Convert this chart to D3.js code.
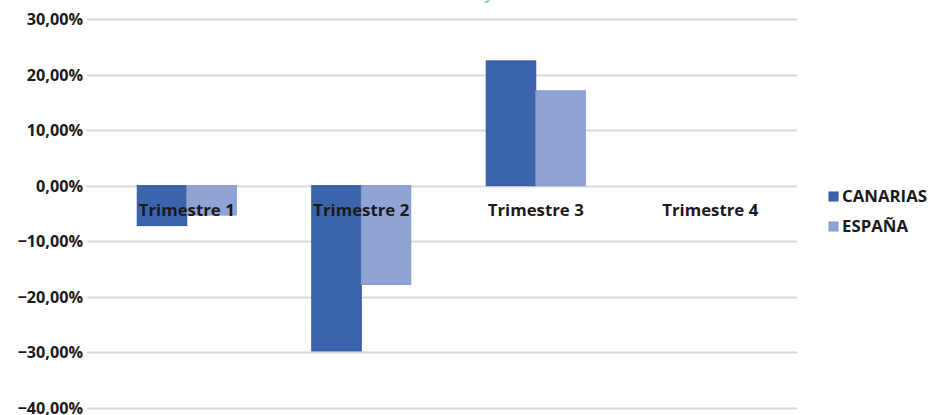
<!DOCTYPE html>
<html><head><meta charset="utf-8">
<script src="https://cdn.jsdelivr.net/npm/d3@7"></script>
<style>
html,body{margin:0;padding:0;background:#fff;}
svg{display:block;font-family:"Open Sans",sans-serif;}
</style></head>
<body>
<svg id="chart" width="931" height="415"></svg>
<script>
const categories = ["Trimestre 1","Trimestre 2","Trimestre 3","Trimestre 4"];
const seriesNames = ["CANARIAS","ESPAÑA"];
const canarias = [-7.2, -29.8, 22.5, null];
const espana = [-5.3, -17.8, 17.1, null];
const yTicks = [30,20,10,0,-10,-20,-30,-40];
const colors = ["#3B64AD","#8FA4D4"];
const strokes = ["#2F5597","#8297CB"];

const svg = d3.select("#chart");
const y = d3.scaleLinear().domain([-40,30]).range([407.5,19.3]);
const x = d3.scaleBand().domain(categories).range([99.5,797.5]).paddingInner(0).paddingOuter(0);
const xs = d3.scaleBand().domain(seriesNames).range([0,x.bandwidth()]).paddingInner(0).paddingOuter(0.763);

const gridLeft = 87, gridRight = 797;
const FS = 16.2, FS2 = 16.8, FW = 700, TXT = "#1a1a1a";

// partially visible title (cut off at top)
svg.append("text").attr("x",484).attr("y",-1.5).attr("fill","#9DC3E6")
  .attr("font-size",18).attr("font-weight",600).text("y");

// gridlines
svg.append("g").selectAll("line").data(yTicks).join("line")
  .attr("x1",gridLeft).attr("x2",gridRight)
  .attr("y1",d=>Math.round(y(d))+0.5).attr("y2",d=>Math.round(y(d))+0.5)
  .attr("stroke","#D9D9D9").attr("stroke-width",2);

// y axis labels
const yAxis = d3.axisLeft(y).tickValues(yTicks).tickSize(0).tickPadding(0)
  .tickFormat(d=>d3.format(".2f")(d).replace(".",",")+"%");
const ya = svg.append("g").attr("transform","translate(83,0)").call(yAxis);
ya.select(".domain").remove();
ya.selectAll("text").attr("font-family","Open Sans, sans-serif").attr("font-size",FS)
  .attr("font-weight",FW).attr("fill",TXT).attr("dy","0.35em");

// bars
const series = [canarias, espana];
series.forEach((vals,si)=>{
  svg.append("g").selectAll("rect").data(categories.map((c,i)=>({c,v:vals[i]})).filter(d=>d.v!=null))
    .join("rect")
    .attr("x",d=>x(d.c)+xs(seriesNames[si]))
    .attr("width",xs.bandwidth())
    .attr("y",d=>Math.min(y(d.v),y(0)))
    .attr("height",d=>Math.abs(y(d.v)-y(0)))
    .attr("fill",colors[si]).attr("stroke",strokes[si]).attr("stroke-width",1);
});

// category labels near zero line
svg.append("g").selectAll("text").data(categories).join("text")
  .attr("x",d=>x(d)+x.bandwidth()/2).attr("y",216)
  .attr("text-anchor","middle").attr("font-size",FS2).attr("font-weight",FW)
  .attr("fill",TXT).text(d=>d);

// legend
const lg = svg.append("g");
seriesNames.forEach((n,i)=>{
  lg.append("rect").attr("x",829).attr("y",192+i*30).attr("width",9).attr("height",9)
    .attr("fill",colors[i]).attr("stroke",strokes[i]);
  lg.append("text").attr("x",842).attr("y",202+i*30).attr("font-size",FS2).attr("font-weight",FW)
    .attr("fill",TXT).text(n);
});
</script>
</body></html>
